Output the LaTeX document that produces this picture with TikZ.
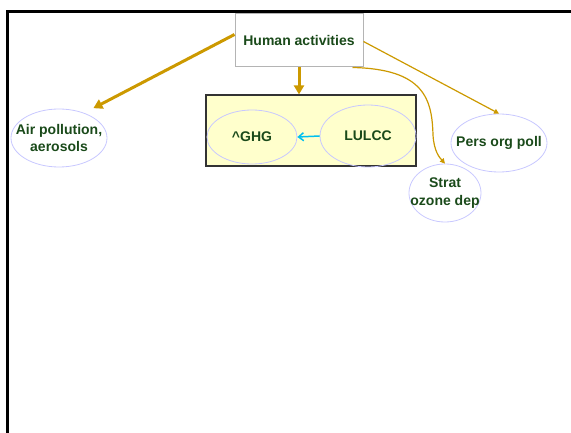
\documentclass[tikz,border=0pt]{standalone}
\usepackage{fontspec}
\setmainfont{Liberation Sans}
\usetikzlibrary{shapes.geometric,arrows.meta,calc}
\definecolor{txtgreen}{HTML}{1A4A1A}
\definecolor{gold}{HTML}{CC9900}
\definecolor{pale}{HTML}{FFFFCC}
\definecolor{lav}{HTML}{C8C8FF}
\definecolor{boxgray}{HTML}{B4B4B4}
\definecolor{skyblue}{HTML}{00C0F0}
\tikzset{
  lbl/.style={font=\fontsize{14}{17.5}\selectfont\bfseries, text=txtgreen, align=center},
  % ovals keep their given size; the caption sits on top as a centred label
  oval/.style={ellipse, draw=lav, line width=0.8pt, inner sep=0pt,
               label={[lbl]center:#1}},
  thickarrow/.style={draw=gold, line width=3pt, -{Triangle[length=9pt,width=10pt]}},
  thinarrow/.style={draw=gold, line width=1.2pt, -{Triangle[length=5pt,width=5pt]}},
}
\begin{document}
\begin{tikzpicture}[x=1pt,y=-1pt]
  \useasboundingbox (0,0) rectangle (571,433);
  % outer frame (only left and top edges fall inside the page)
  \draw[line width=2.6pt, black] (7.5,433) -- (7.5,11.5) -- (571,11.5);

  % central source box
  \node[draw=boxgray, line width=1pt, fill=white, minimum width=128pt,
        minimum height=53pt, inner sep=0pt, lbl] (human) at (299,40.5) {Human activities};

  % yellow panel holding the two land-use ovals
  \node[draw=black!80, line width=1.2pt, fill=pale, minimum width=210pt,
        minimum height=71pt, inner sep=0pt] (panel) at (311,130.5) {};
  \node[oval={\textasciicircum GHG}, minimum width=90pt, minimum height=54pt] (ghg) at (252,137) {};
  \node[oval={LULCC}, minimum width=96pt, minimum height=62pt] (lulcc) at (368,136) {};

  % outer ovals
  \node[oval={Air pollution,\\aerosols}, minimum width=96pt, minimum height=58pt] (air) at (59,138) {};
  \node[oval={Pers org poll}, minimum width=96pt, minimum height=58pt] (pers) at (499,143) {};
  \node[oval={Strat\\ozone dep}, minimum width=72pt, minimum height=58pt] (strat) at (445,193) {};

  % connectors
  \draw[thickarrow] ($(human.west)+(0,-6)$) -- ($(air.40)+(6,-6)$);
  \draw[thickarrow] (human.south) -- (panel.north -| human.south);
  \draw[thinarrow] ($(human.east)+(0,1)$) -- (pers.north);
  \draw[thinarrow] ($(human.south east)+(-11,0)$)
     .. controls (425,69) and (432,100) .. (433,135)
     .. controls (434,152) and (440,158) .. (strat.north);
  \draw[draw=skyblue, line width=1.5pt, -{Straight Barb[length=5pt,width=8pt]}] (lulcc.west) -- (ghg.east);
\end{tikzpicture}
\end{document}
